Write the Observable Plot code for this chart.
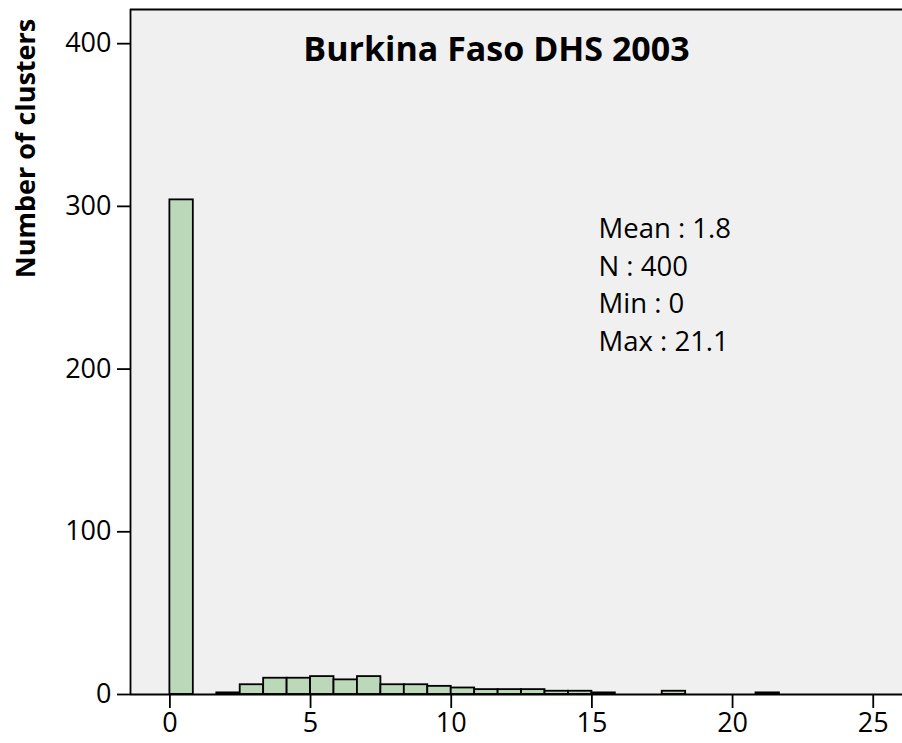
<!DOCTYPE html>
<html>
<head>
<meta charset="utf-8">
<script src="https://cdn.jsdelivr.net/npm/d3@7"></script>
<script src="https://cdn.jsdelivr.net/npm/@observablehq/plot@0.6"></script>
<style>
  html, body { margin: 0; padding: 0; background: #ffffff; }
  #chart svg { display: block; }
</style>
</head>
<body>
<div id="chart"></div>
<script>
// ---- Data ----
const title = "Burkina Faso DHS 2003";
const yLabel = "Number of clusters";
const binWidth = 0.8333;
const binStart = [0, 1.667, 2.5, 3.333, 4.167, 5, 5.833, 6.667, 7.5, 8.333, 9.167, 10, 10.833, 11.667, 12.5, 13.333, 14.167, 15, 17.5, 20.833];
const counts   = [304, 1, 6, 10, 10, 11, 9, 11, 6, 6, 5, 4, 3, 3, 3, 2, 2, 1, 2, 1];
const statLabels = ["Mean", "N", "Min", "Max"];
const statValues = ["1.8", "400", "0", "21.1"];
const xTicks = [0, 5, 10, 15, 20, 25];
const yTicks = [0, 100, 200, 300, 400];
const xDomain = [-1.4, 26.04];
const yDomain = [0, 421];

const bins = binStart.map((s, i) => ({x1: s, x2: s + binWidth, count: counts[i]}));
const statText = statLabels.map((l, i) => `${l} : ${statValues[i]}`).join("\n");

const chart = Plot.plot({
  width: 902,
  height: 743,
  marginLeft: 130,
  marginRight: 0,
  marginTop: 9,
  marginBottom: 49,
  style: {fontFamily: "'Open Sans', sans-serif", fontSize: "27px", color: "#000", background: "#ffffff"},
  x: {domain: xDomain, ticks: xTicks, tickSize: 14, tickPadding: 4, label: null},
  y: {domain: yDomain, ticks: yTicks, tickSize: 13, tickPadding: 6, label: null},
  marks: [
    Plot.frame({fill: "#f0f0f0", stroke: null}),
    Plot.rectY(bins, {x1: "x1", x2: "x2", y: "count", fill: "#bbd8b8", stroke: "#000", strokeWidth: 1.8, inset: 0}),
    Plot.ruleX([xDomain[0]], {stroke: "#000", strokeWidth: 1.8}),
    Plot.ruleY([yDomain[1]], {stroke: "#000", strokeWidth: 1.8}),
    Plot.ruleY([0], {stroke: "#000", strokeWidth: 1.8}),
    Plot.text([title], {frameAnchor: "top", dx: -20, dy: 41, text: d => d, textAnchor: "middle", lineAnchor: "middle", fontSize: 34, fontWeight: "bold", fill: "#000"}),
    Plot.text([statText], {frameAnchor: "top-left", dx: 468, dy: 273, text: d => d, textAnchor: "start", lineAnchor: "middle", lineHeight: 1.363, fontSize: 27.5, fill: "#000"}),
    Plot.text([yLabel], {frameAnchor: "top-left", dx: -104, dy: 139, rotate: -90, text: d => d, textAnchor: "middle", lineAnchor: "middle", fontSize: 27, fontWeight: "bold", fill: "#000"})
  ]
});
chart.querySelectorAll("[aria-label$='tick']").forEach(g => g.setAttribute("stroke-width", "1.8"));
document.getElementById("chart").appendChild(chart);
</script>
</body>
</html>
